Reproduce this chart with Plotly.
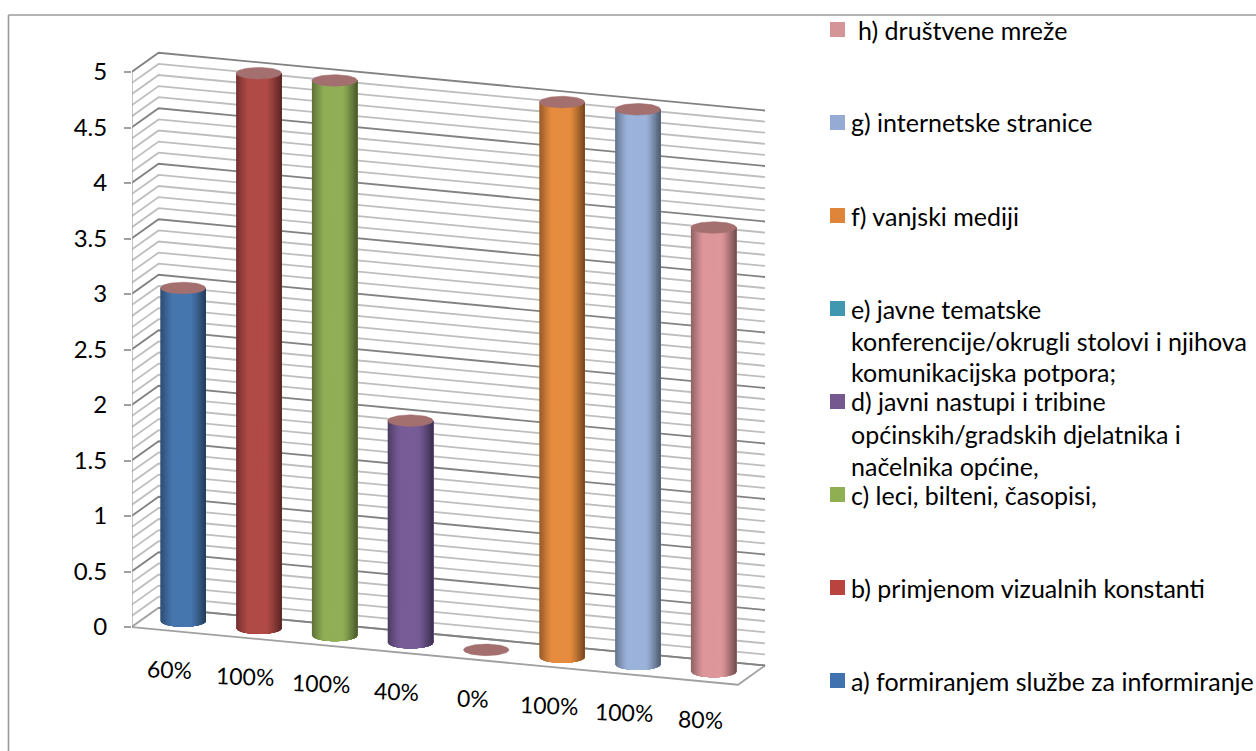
import math
import plotly.graph_objects as go

# ---------- data ----------
series_names = [
    "a) formiranjem službe za informiranje",
    "b) primjenom vizualnih konstanti",
    "c) leci, bilteni, časopisi,",
    "d) javni nastupi i tribine",
    "e) javne tematske",
    "f) vanjski mediji",
    "g) internetske stranice",
    "h) društvene mreže",
]
name_continuations = {
    3: ["općinskih/gradskih djelatnika i", "načelnika općine,"],
    4: ["konferencije/okrugli stolovi i njihova", "komunikacijska potpora;"],
}
values = [3, 5, 5, 2, 0, 5, 5, 4]
value_labels = ["60%", "100%", "100%", "40%", "0%", "100%", "100%", "80%"]
y_ticks = [0, 0.5, 1, 1.5, 2, 2.5, 3, 3.5, 4, 4.5, 5]
y_ticktext = ["0", "0.5", "1", "1.5", "2", "2.5", "3", "3.5", "4", "4.5", "5"]

# ---------- styles ----------
bar_colors = ["#4676AE", "#B04A47", "#90AF56", "#775C98", "#3F97B0", "#E68C3E", "#9BB3DB", "#DD969A"]
legend_colors = ["#3F72AE", "#B8433F", "#90AE52", "#75588F", "#3F97B0", "#DF853A", "#95ABD4", "#D59498"]
cap_color = "#A36F6F"
FONT = "Lato"
TEXT_C = "#000000"
W, H = 1256, 751
LEFT = 132
PX_X0, PX_PER_CAT = 169.5, 75.8
PX_Y0, PX_PER_UNIT = 627.0, 111.0
DEPTH_X = 27 / PX_PER_CAT
DEPTH_Y = 0.173
SLOPE = 0.065
R = 22.7 / PX_PER_CAT
E = 5.8 / PX_PER_UNIT
GRID_MINOR, GRID_MAJOR, AXIS_C = "#BEBEBE", "#828282", "#A0A0A0"


def proj(c, v, d):
    """Oblique projection of category position, value and depth onto the axes."""
    return c + d * DEPTH_X, v - (c + 0.5) * SLOPE + d * DEPTH_Y


def shade(hexc, f):
    r, g, b = [int(hexc[i:i + 2], 16) for i in (1, 3, 5)]
    return "#%02x%02x%02x" % (round(r * f), round(g * f), round(b * f))


def brightness(u):
    if u < -0.45:
        return 1 - 0.36 * ((-0.45 - u) / 0.55) ** 1.2
    if u > 0.35:
        return 1 - 0.50 * ((u - 0.35) / 0.65) ** 1.2
    return 1.0


fig = go.Figure()


def line(pts, color, width=1.8):
    xs, ys = zip(*[proj(*p) for p in pts])
    fig.add_trace(go.Scatter(x=xs, y=ys, mode="lines", line=dict(color=color, width=width),
                             hoverinfo="skip", showlegend=False))


C0, C1 = -0.5, 7.5
for k in range(1, 51):
    v = k / 10
    col = GRID_MAJOR if k % 5 == 0 else GRID_MINOR
    line([(C0, v, 0), (C0, v, 1), (C1, v, 1)], col)
line([(C0, 0, 0), (C0, 0, 1), (C1, 0, 1), (C1, 0, 0), (C0, 0, 0)], AXIS_C)
line([(C0, 0, 1), (C1, 0, 1)], GRID_MAJOR)
line([(C0, 0, 0), (C0, 5, 0)], AXIS_C, 2)

# cylinders: painted left to right, each layer reaching the right edge, so no seams show
STRIPS = 30
for i, (val, col, name) in enumerate(zip(values, bar_colors, series_names)):
    cx, base = proj(i, 0, 0.5)
    top = base + val
    if val > 0:
        for s in range(STRIPS):
            u0 = -1 + 2 * s / STRIPS
            u1 = -1 + 2 * (s + 1) / STRIPS
            fill = shade(col, brightness((u0 + u1) / 2))
            steps = [u0 + (1 - u0) * t / 40 for t in range(41)]
            xs = [cx + u0 * R] + [cx + u * R for u in steps] + [cx + R, cx + u0 * R]
            ys = [top] + [base - E * math.sqrt(max(0, 1 - u * u)) for u in steps] + [top, top]
            fig.add_trace(go.Scatter(x=xs, y=ys, mode="lines", fill="toself", fillcolor=fill,
                                     line=dict(width=0), name=name,
                                     hoverinfo="skip", showlegend=False))
    ang = [2 * math.pi * a / 60 for a in range(61)]
    fig.add_trace(go.Scatter(x=[cx + R * math.cos(a) for a in ang],
                             y=[top + E * math.sin(a) for a in ang],
                             mode="lines", fill="toself", fillcolor=cap_color,
                             line=dict(color=cap_color, width=0.5), name=name,
                             hoverinfo="skip", showlegend=False))

annotations = []
shapes = []


def paper_x(px):
    return (px - LEFT) / (W - LEFT)


def paper_y(py):
    return 1 - py / H


# value labels under the floor
for i, lab in enumerate(value_labels):
    lx, ly = proj(i, -0.345, 0)
    annotations.append(dict(x=lx, y=ly, xref="x", yref="y", text=lab, showarrow=False,
                            font=dict(family=FONT, size=23, color=TEXT_C), textangle=2,
                            xanchor="center", yanchor="middle"))

# key on the right
LINE_H = 32
for i, (name, col) in enumerate(zip(series_names, legend_colors)):
    cy = 680.5 - 93 * i
    shapes.append(dict(type="rect", xref="paper", yref="paper", x0=paper_x(830), x1=paper_x(845),
                       y0=paper_y(cy - 7.5), y1=paper_y(cy + 7.5), fillcolor=col, line=dict(width=0)))
    tx = 856 if i == 7 else 849
    lines = [name] + name_continuations.get(i, [])
    for j, t in enumerate(lines):
        annotations.append(dict(x=paper_x(tx), y=paper_y(cy + j * LINE_H), xref="paper", yref="paper",
                                text=t, showarrow=False, xanchor="left", yanchor="middle",
                                font=dict(family=FONT, size=25, color=TEXT_C)))

# outer frame (top and left edges)
FRAME = "#9A9A9A"
shapes.append(dict(type="line", xref="paper", yref="paper", x0=paper_x(8.5), x1=1,
                   y0=paper_y(15), y1=paper_y(15), line=dict(color=FRAME, width=1.6)))
shapes.append(dict(type="line", xref="paper", yref="paper", x0=paper_x(8.5), x1=paper_x(8.5),
                   y0=paper_y(15), y1=0, line=dict(color=FRAME, width=1.6)))

fig.update_layout(
    width=W, height=H, margin=dict(l=LEFT, r=0, t=0, b=0),
    paper_bgcolor="white", plot_bgcolor="white", showlegend=False,
    annotations=annotations, shapes=shapes,
    xaxis=dict(visible=False, range=[(LEFT - PX_X0) / PX_PER_CAT, (W - PX_X0) / PX_PER_CAT]),
    yaxis=dict(range=[(PX_Y0 - H) / PX_PER_UNIT, PX_Y0 / PX_PER_UNIT],
               tickmode="array", tickvals=y_ticks, ticktext=y_ticktext,
               ticks="outside", ticklen=7, tickcolor=AXIS_C, tickwidth=1.8,
               ticklabelstandoff=12, showgrid=False, zeroline=False, showline=False,
               tickfont=dict(family=FONT, size=24, color=TEXT_C)),
)
fig.write_html("out.html", config={"displayModeBar": False},
               post_script="document.body.style.margin='0';document.body.style.overflow='hidden';")
